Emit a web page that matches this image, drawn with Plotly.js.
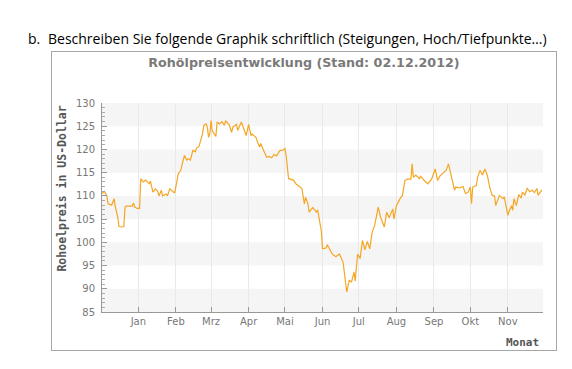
<!DOCTYPE html>
<html><head><meta charset="utf-8">
<script src="https://cdn.plot.ly/plotly-3.0.1.min.js"></script>
<style>
html,body{margin:0;padding:0;background:#fff;width:572px;height:369px;overflow:hidden;}
#head{position:absolute;left:28px;top:29px;font-family:"Open Sans","Noto Sans",sans-serif;font-size:14px;color:#000;white-space:nowrap;}
#head .lbl{display:inline-block;width:20px;}
#box{position:absolute;left:51px;top:51px;width:504px;height:298px;border:1px solid #a8a8a8;}
#chart{position:absolute;left:0;top:0;width:504px;height:298px;}
</style></head>
<body>
<div id="head"><span class="lbl">b.</span>Beschreiben Sie folgende Graphik schriftlich (Steigungen, Hoch/Tiefpunkte…)</div>
<div id="box"><div id="chart"></div></div>
<script>
const chartTitle = "Rohölpreisentwicklung (Stand: 02.12.2012)";
const yTitle = "Rohoelpreis in US-Dollar";
const xTitle = "Monat";
const monthTicks = ["2012-01-01","2012-02-01","2012-03-01","2012-04-01","2012-05-01","2012-06-01","2012-07-01","2012-08-01","2012-09-01","2012-10-01","2012-11-01"];
const monthLabels = ["Jan","Feb","Mrz","Apr","Mai","Jun","Jul","Aug","Sep","Okt","Nov"];
const yTicks = [85,90,95,100,105,110,115,120,125,130];

const dates = [
"2011-12-02","2011-12-04","2011-12-06","2011-12-07","2011-12-10","2011-12-12","2011-12-13","2011-12-15","2011-12-16","2011-12-18",
"2011-12-20","2011-12-21","2011-12-22","2011-12-27","2011-12-28","2011-12-29","2011-12-31","2012-01-02","2012-01-03","2012-01-05",
"2012-01-07","2012-01-10","2012-01-11","2012-01-13","2012-01-15","2012-01-17","2012-01-18","2012-01-20","2012-01-21","2012-01-24",
"2012-01-25","2012-01-27","2012-01-30","2012-01-31","2012-02-01","2012-02-03","2012-02-05","2012-02-07","2012-02-08","2012-02-10",
"2012-02-11","2012-02-13","2012-02-15","2012-02-17","2012-02-18","2012-02-20","2012-02-21","2012-02-23","2012-02-24","2012-02-26",
"2012-02-27","2012-02-28","2012-02-29","2012-03-01","2012-03-02","2012-03-05","2012-03-06","2012-03-08","2012-03-10","2012-03-12",
"2012-03-13","2012-03-16","2012-03-18","2012-03-19","2012-03-22","2012-03-23","2012-03-26","2012-03-28","2012-03-30","2012-04-01",
"2012-04-03","2012-04-04","2012-04-07","2012-04-10","2012-04-11","2012-04-14","2012-04-16","2012-04-18","2012-04-20","2012-04-22",
"2012-04-24","2012-04-27","2012-04-29","2012-05-01","2012-05-02","2012-05-04","2012-05-08","2012-05-10","2012-05-13","2012-05-15",
"2012-05-17","2012-05-18","2012-05-20","2012-05-21","2012-05-24","2012-05-27","2012-05-28","2012-05-31","2012-06-01","2012-06-04",
"2012-06-05","2012-06-07","2012-06-09","2012-06-12","2012-06-15","2012-06-18","2012-06-20","2012-06-21","2012-06-23","2012-06-25",
"2012-06-27","2012-06-28","2012-06-30","2012-07-02","2012-07-04","2012-07-06","2012-07-08","2012-07-10","2012-07-12","2012-07-14",
"2012-07-17","2012-07-19","2012-07-22","2012-07-24","2012-07-26","2012-07-29","2012-07-30","2012-08-01","2012-08-04","2012-08-06",
"2012-08-08","2012-08-10","2012-08-13","2012-08-14","2012-08-15","2012-08-17","2012-08-20","2012-08-21","2012-08-24","2012-08-27",
"2012-08-30","2012-09-02","2012-09-04","2012-09-06","2012-09-08","2012-09-11","2012-09-13","2012-09-15","2012-09-18","2012-09-19",
"2012-09-22","2012-09-25","2012-09-27","2012-09-29","2012-10-01","2012-10-02","2012-10-03","2012-10-06","2012-10-07","2012-10-09",
"2012-10-11","2012-10-13","2012-10-15","2012-10-17","2012-10-19","2012-10-21","2012-10-22","2012-10-25","2012-10-28","2012-10-29",
"2012-11-01","2012-11-02","2012-11-04","2012-11-05","2012-11-06","2012-11-08","2012-11-10","2012-11-12","2012-11-13","2012-11-15",
"2012-11-17","2012-11-19","2012-11-21","2012-11-23","2012-11-25","2012-11-26","2012-11-29"
];
const prices = [
110.5,111.0,110.0,108.3,108.0,109.4,107.7,105.4,103.4,103.3,
103.4,107.6,107.8,107.8,108.5,107.6,107.3,107.3,113.7,113.0,
113.4,112.6,113.2,110.8,111.5,111.0,110.0,111.2,110.0,110.4,
110.0,111.5,110.8,110.7,112.0,114.8,115.5,117.3,118.7,117.7,
118.0,117.7,119.8,119.5,120.3,120.6,121.6,123.4,125.2,125.5,
124.7,122.6,123.3,126.2,124.0,122.8,125.9,125.5,126.0,125.2,
126.2,125.3,123.7,124.8,125.4,124.1,125.9,124.2,123.0,125.4,
123.0,123.3,122.6,120.5,121.3,119.4,118.3,118.5,118.2,118.9,
118.6,119.8,119.8,120.2,118.7,113.7,113.4,112.6,111.9,111.6,
108.3,109.7,108.3,106.5,107.5,106.5,107.0,102.5,98.6,98.8,
99.5,98.6,97.5,96.9,97.5,95.7,91.1,89.3,91.8,91.5,
93.6,91.7,97.5,96.5,100.4,98.4,100.2,98.6,102.2,103.6,
107.6,105.4,103.3,106.5,105.3,107.2,105.0,107.9,109.4,110.1,
113.3,113.6,113.6,116.9,114.0,114.5,113.7,114.2,113.3,112.6,
113.6,115.8,113.3,114.3,114.8,115.5,116.9,114.8,111.2,111.9,
111.7,112.0,110.5,110.7,111.9,108.3,111.9,112.2,114.0,115.5,
114.5,115.8,114.5,111.9,110.1,110.0,107.9,110.1,109.4,109.8,
105.8,106.7,107.9,106.9,109.4,107.9,110.3,109.5,110.8,110.2,
111.7,110.9,111.2,110.7,111.6,110.1,111.3
];

const shapes = [];
for (let i = 0; i < yTicks.length - 1; i += 2) {
  shapes.push({type:'rect', xref:'paper', yref:'y', x0:0, x1:1, y0:yTicks[i], y1:yTicks[i+1],
    fillcolor:'#f5f5f5', line:{width:0}, layer:'below'});
}

const trace = {
  x: dates, y: prices, type:'scatter', mode:'lines',
  line:{color:'#f5a623', width:1.2}, hoverinfo:'skip'
};

const tickFont = {family:'"DejaVu Sans", Verdana, sans-serif', size:10, color:'#777'};
const layout = {
  width:504, height:298,
  margin:{l:50, r:13, t:51, b:38},
  paper_bgcolor:'rgba(0,0,0,0)', plot_bgcolor:'#fff',
  showlegend:false,
  title:{text:chartTitle, font:{family:'"DejaVu Sans", Verdana, sans-serif', size:12.7, color:'#7a7a7a', weight:'bold'},
         xref:'container', x:0.5, xanchor:'center', yref:'container', y:0.963, yanchor:'middle'},
  xaxis:{type:'date', range:['2011-12-02','2012-11-30'], tickvals:monthTicks, ticktext:monthLabels,
         ticks:'inside', ticklen:5, tickcolor:'#999', showline:true, linecolor:'#999', linewidth:1,
         showgrid:true, gridcolor:'#e9e9e9', gridwidth:1, zeroline:false, tickfont:tickFont, fixedrange:true},
  yaxis:{range:[85,130], tickvals:yTicks, ticks:'inside', ticklen:5, tickcolor:'#999',
         minor:{dtick:1, ticks:'inside', ticklen:3, tickcolor:'#aaa', showgrid:false},
         showline:true, linecolor:'#999', linewidth:1, showgrid:false, zeroline:false,
         tickfont:tickFont, ticklabelstandoff:4, fixedrange:true},
  shapes: shapes,
  annotations:[
    {text:yTitle, xref:'paper', yref:'paper', x:-0.091, y:0.59, textangle:-90, showarrow:false,
     xanchor:'center', yanchor:'middle',
     font:{family:'"DejaVu Sans Mono", monospace', size:11.5, color:'#555', weight:'bold'}},
    {text:xTitle, xref:'paper', yref:'paper', x:0.995, y:-0.146, showarrow:false,
     xanchor:'right', yanchor:'middle',
     font:{family:'"DejaVu Sans Mono", monospace', size:11, color:'#555', weight:'bold'}}
  ]
};
Plotly.newPlot('chart', [trace], layout, {staticPlot:true, displayModeBar:false});
</script>
</body></html>
